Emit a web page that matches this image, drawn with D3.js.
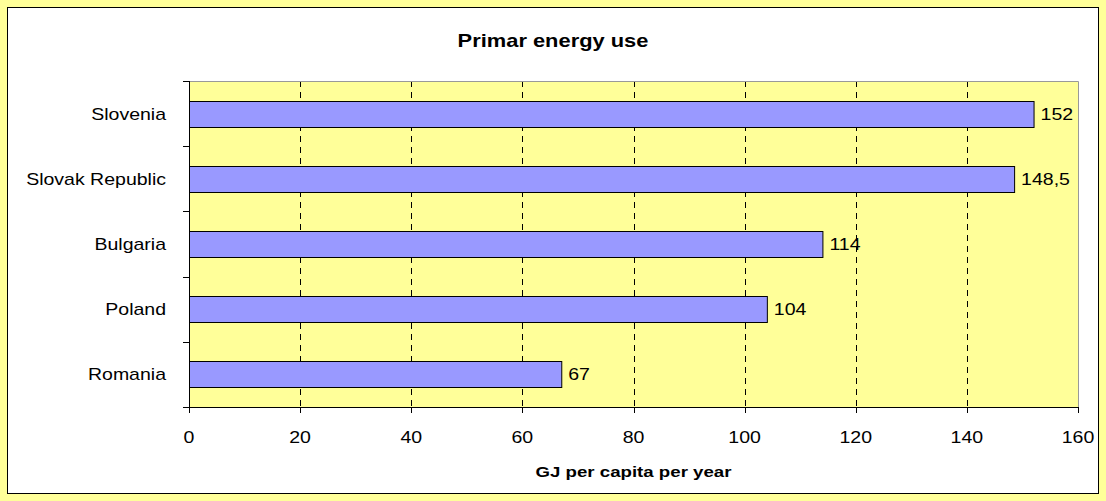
<!DOCTYPE html>
<html>
<head>
<meta charset="utf-8">
<script src="https://cdn.jsdelivr.net/npm/d3@7"></script>
<style>
  html, body { margin: 0; padding: 0; background: #FFFF99; }
  svg { display: block; }
  text { font-family: "Liberation Sans", Arial, sans-serif; fill: #000; }
</style>
</head>
<body>
<svg id="chart" width="1106" height="501"></svg>
<script>
// Primary energy use per capita, top to bottom
const categories = ["Slovenia", "Slovak Republic", "Bulgaria", "Poland", "Romania"];
const values = [152, 148.5, 114, 104, 67];
const xTicks = [0, 20, 40, 60, 80, 100, 120, 140, 160];
const chartTitle = "Primar energy use";
const xAxisTitle = "GJ per capita per year";

const W = 1106, H = 501;
const plot = { left: 189, right: 1078, top: 81, bottom: 407 };
const sx = 1.22; // horizontal text stretch
const fs = 16;

const svg = d3.select("#chart");

// page background and chart area
svg.append("rect").attr("x", 0).attr("y", 0).attr("width", W).attr("height", H).attr("fill", "#FFFF99");
svg.append("rect").attr("x", 7.5).attr("y", 7.5).attr("width", 1091).attr("height", 486)
  .attr("fill", "#fff").attr("stroke", "#000").attr("stroke-width", 1);

const x = d3.scaleLinear().domain([0, 160]).range([plot.left, plot.right]);
const y = d3.scaleBand().domain(categories).range([plot.top, plot.bottom])
  .paddingInner(0.6).paddingOuter(0.3);
const step = y.step();

// plot area
svg.append("rect").attr("x", plot.left).attr("y", plot.top)
  .attr("width", plot.right - plot.left).attr("height", plot.bottom - plot.top)
  .attr("fill", "#FFFF99");

// dashed vertical gridlines
svg.append("g").selectAll("line").data(xTicks.filter(t => t > 0 && t < 160)).join("line")
  .attr("x1", d => Math.round(x(d)) + 0.5).attr("x2", d => Math.round(x(d)) + 0.5)
  .attr("y1", plot.top).attr("y2", plot.bottom)
  .attr("stroke", "#000").attr("stroke-width", 1).attr("stroke-dasharray", "6,5");

// plot border top/right
svg.append("path")
  .attr("d", `M${plot.left},${plot.top + 0.5}H${plot.right + 0.5}V${plot.bottom}`)
  .attr("fill", "none").attr("stroke", "#999").attr("stroke-width", 1);

// bars
svg.append("g").selectAll("rect").data(categories).join("rect")
  .attr("x", x(0) + 0.5)
  .attr("y", d => Math.round(y(d)) + 0.5)
  .attr("width", (d, i) => x(values[i]) - x(0))
  .attr("height", Math.round(y.bandwidth()))
  .attr("fill", "#9999FF").attr("stroke", "#000").attr("stroke-width", 1);

// value labels
svg.append("g").selectAll("text").data(categories).join("text")
  .attr("transform", (d, i) => `translate(${x(values[i]) + 7},${y(d) + y.bandwidth() / 2 + 6}) scale(${sx},1)`)
  .attr("font-size", fs)
  .text((d, i) => String(values[i]).replace(".", ","));

// category axis (left)
const yAxis = svg.append("g");
yAxis.append("line").attr("x1", plot.left + 0.5).attr("x2", plot.left + 0.5)
  .attr("y1", plot.top).attr("y2", plot.bottom).attr("stroke", "#000");
const bounds = d3.range(categories.length + 1).map(k => plot.top + k * step);
yAxis.selectAll("line.tick").data(bounds).join("line").attr("class", "tick")
  .attr("x1", plot.left - 6).attr("x2", plot.left)
  .attr("y1", d => Math.round(d) + 0.5).attr("y2", d => Math.round(d) + 0.5)
  .attr("stroke", "#000");
yAxis.selectAll("text").data(categories).join("text")
  .attr("transform", d => `translate(166,${y(d) + y.bandwidth() / 2 + 6}) scale(${sx},1)`)
  .attr("text-anchor", "end").attr("font-size", fs)
  .text(d => d);

// value axis (bottom)
const xAxis = svg.append("g");
xAxis.append("line").attr("x1", plot.left).attr("x2", plot.right + 1)
  .attr("y1", plot.bottom + 0.5).attr("y2", plot.bottom + 0.5).attr("stroke", "#000");
xAxis.selectAll("line.tick").data(xTicks).join("line").attr("class", "tick")
  .attr("x1", d => Math.round(x(d)) + 0.5).attr("x2", d => Math.round(x(d)) + 0.5)
  .attr("y1", plot.bottom).attr("y2", plot.bottom + 6).attr("stroke", "#000");
xAxis.selectAll("text").data(xTicks).join("text")
  .attr("transform", d => `translate(${x(d)},443) scale(${sx},1)`)
  .attr("text-anchor", "middle").attr("font-size", fs)
  .text(d => d);

// titles
svg.append("text")
  .attr("transform", `translate(553,47) scale(1.25,1)`)
  .attr("text-anchor", "middle").attr("font-size", 17.5).attr("font-weight", "bold")
  .text(chartTitle);
svg.append("text")
  .attr("transform", `translate(${(plot.left + plot.right) / 2},477) scale(${sx},1)`)
  .attr("text-anchor", "middle").attr("font-size", 15.3).attr("font-weight", "bold")
  .text(xAxisTitle);
</script>
</body>
</html>
